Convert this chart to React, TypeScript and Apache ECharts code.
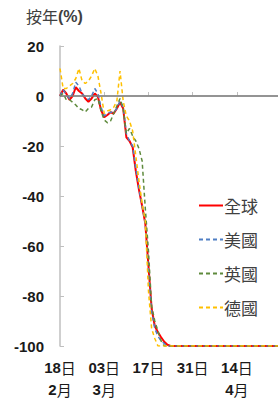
import React, { useEffect, useRef } from "react";
import * as echarts from "echarts";

// Daily dates from 2020-02-18 to 2020-04-27
const startDate = new Date(2020, 1, 18);
const categories: string[] = [];
for (let i = 0; i < 70; i++) {
  const d = new Date(startDate.getTime() + i * 86400000);
  categories.push(`${d.getMonth() + 1}/${d.getDate()}`);
}

const tickDays = ["18", "03", "17", "31", "14"];
const tickMonths = ["2月", "3月", "", "", "4月"];

const seriesNames = ["全球", "美國", "英國", "德國"];

const globalVals = [
  0, 2.5, 1, -1.5, 0, 3.5, 2, 1, -1, -2.3, -1, 1, -0.3, -5.6, -8.5, -7.6, -6.5, -7, -5, -2.5,
  -5, -16.5, -18, -20.5, -30, -37.5, -44, -51, -68, -85, -92, -94.5, -96.5, -98.3, -99.5, -100, -100, -100, -100, -100,
  -100, -100, -100, -100, -100, -100, -100, -100, -100, -100, -100, -100, -100, -100, -100, -100, -100, -100, -100, -100,
  -100, -100, -100, -100, -100, -100, -100, -100, -100, -100,
];
const usVals = [
  0, 2.5, 0.5, -1, 1, 5.5, 4, 1, -0.5, -1.5, 0, 3, 1, -4.5, -8, -7, -6.5, -6.5, -5, -2,
  -4.5, -15, -18, -20, -29, -37, -44, -51, -70, -86, -93, -96, -98, -99, -100, -100, -100, -100, -100, -100,
  -100, -100, -100, -100, -100, -100, -100, -100, -100, -100, -100, -100, -100, -100, -100, -100, -100, -100, -100, -100,
  -100, -100, -100, -100, -100, -100, -100, -100, -100, -100,
];
const ukVals = [
  0, 1, -1.5, -1.5, -2.5, -3.6, -5, -5.5, -6.4, -5, -4.4, -1.5, -1, -6, -9.6, -10.7, -10, -7, -4, -1,
  -5, -15, -13, -16, -18, -21, -26, -45, -62, -84, -90, -94, -98, -100, -100, -100, -100, -100, -100, -100,
  -100, -100, -100, -100, -100, -100, -100, -100, -100, -100, -100, -100, -100, -100, -100, -100, -100, -100, -100, -100,
  -100, -100, -100, -100, -100, -100, -100, -100, -100, -100,
];
const deVals = [
  11, 3, 3, 4, 5, 7, 11, 6, 5, 6, 8, 11, 8, 1, -7, -6, -5.5, -4.5, -2, 10,
  -2, -8, -10, -14, -24, -34, -43, -50, -78, -93, -97, -100, -100, -100, -100, -100, -100, -100, -100, -100,
  -100, -100, -100, -100, -100, -100, -100, -100, -100, -100, -100, -100, -100, -100, -100, -100, -100, -100, -100, -100,
  -100, -100, -100, -100, -100, -100, -100, -100, -100, -100,
];

const colors = ["#ff0000", "#4f7ec4", "#5e8a3c", "#ffc000"];

const latin = "'Liberation Sans', Arial, sans-serif";
const cjk = "'Noto Sans CJK TC', 'Noto Sans CJK SC', sans-serif";

export default function App() {
  const ref = useRef<HTMLDivElement>(null);
  useEffect(() => {
    if (!ref.current) return;
    const chart = echarts.init(ref.current, undefined, { renderer: "svg" });
    const allVals = [globalVals, usVals, ukVals, deVals];
    const series: any[] = allVals.map((vals, i) => ({
      name: seriesNames[i],
      type: "line",
      data: vals,
      symbol: "none",
      z: i === 0 ? 2 : 3,
      lineStyle: {
        color: colors[i],
        width: i === 0 ? 2 : 1.5,
        type: i === 0 ? "solid" : [4, 3],
      },
      itemStyle: { color: colors[i] },
    }));
    series[0].markLine = {
      silent: true,
      symbol: "none",
      label: { show: false },
      lineStyle: { color: "#808080", type: "solid", width: 1.5 },
      data: [{ yAxis: 0 }],
      z: 5,
    };
    chart.setOption({
      animation: false,
      title: {
        text: "{a|按年}{b|(%)}",
        left: 26,
        top: 8,
        padding: 0,
        textStyle: {
          fontWeight: "normal",
          rich: {
            a: { fontFamily: cjk, fontSize: 16, fontWeight: "normal", color: "#404040" },
            b: { fontFamily: latin, fontSize: 16, fontWeight: "bold", color: "#404040" },
          },
        },
      },
      legend: {
        orient: "vertical",
        left: 193,
        top: 192,
        itemWidth: 24,
        itemHeight: 14,
        itemGap: 17,
        itemStyle: { opacity: 0 },
        textStyle: { fontFamily: cjk, fontSize: 17, color: "#404040", padding: [0, 0, 0, -4] },
        data: seriesNames,
      },
      grid: { left: 60, right: 0, top: 46, bottom: 55, containLabel: false },
      xAxis: {
        type: "category",
        data: categories,
        boundaryGap: false,
        axisLine: { show: true, lineStyle: { color: "#bfbfbf", width: 1.5 } },
        axisTick: { show: true, inside: true, interval: 13, length: 4, lineStyle: { color: "#bfbfbf" } },
        splitLine: { show: false },
        axisLabel: {
          interval: 13,
          margin: 10,
          formatter: (_v: string, idx: number) => {
            const k = Math.round(idx / 14);
            if (idx % 14 !== 0 || k >= tickDays.length) return "";
            const m = tickMonths[k];
            const dayPart = `{n|${tickDays[k]}}{c|日}`;
            if (!m) return dayPart;
            return `${dayPart}\n{n|${m.slice(0, 1)}}{c|月}`;
          },
          rich: {
            n: { fontFamily: latin, fontSize: 15, fontWeight: "bold", color: "#1a1a1a", lineHeight: 22 },
            c: { fontFamily: cjk, fontSize: 15, color: "#1a1a1a", lineHeight: 22 },
          },
        },
      },
      yAxis: {
        type: "value",
        min: -100,
        max: 20,
        interval: 20,
        axisLine: { show: true, lineStyle: { color: "#bfbfbf", width: 1.5 } },
        axisTick: { show: true, inside: true, length: 4, lineStyle: { color: "#bfbfbf" } },
        splitLine: { show: false },
        axisLabel: {
          margin: 16,
          fontFamily: latin,
          fontSize: 15,
          fontWeight: "bold",
          color: "#1a1a1a",
        },
      },
      series,
    });
    return () => chart.dispose();
  }, []);
  return (
    <div
      ref={ref}
      style={{ position: "absolute", left: 0, top: 0, width: 278, height: 401, background: "#fff" }}
    />
  );
}
